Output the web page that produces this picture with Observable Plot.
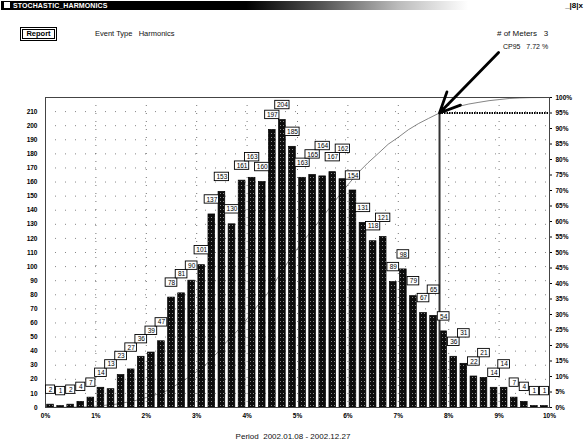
<!DOCTYPE html>
<html><head><meta charset="utf-8">
<script src="https://cdn.jsdelivr.net/npm/d3@7"></script>
<script src="https://cdn.jsdelivr.net/npm/@observablehq/plot@0.6"></script>
<style>
body{margin:0;background:#fff;font-family:"Liberation Sans",Arial,sans-serif;}
#wrap{position:relative;width:586px;height:446px;overflow:hidden;background:#fff;}
#wrap svg{position:absolute;left:0;top:0;}
.tb{position:absolute;left:1px;top:1px;width:584px;height:9px;
 background:linear-gradient(to right,#000 0%,#000 42%,#555 55%,#bbb 68%,#fff 80%,#fff 100%);}
.tb .t{position:absolute;left:12px;top:0px;color:#fff;font-size:7px;font-weight:bold;line-height:9px;letter-spacing:0.1px;}
.tb .ic{position:absolute;left:3px;top:1px;width:6px;height:6px;background:#fff;}
.tb .ctl{position:absolute;right:2px;top:0px;color:#000;font-size:8px;line-height:9px;font-weight:bold;}
.btn{position:absolute;left:20px;top:27px;width:35px;height:12px;border:1px solid #000;box-shadow:inset 0 0 0 1px #fff,inset 0 0 0 2px #000;
 font-size:7.5px;font-weight:bold;text-align:center;line-height:12px;}
.hd{position:absolute;font-size:7.5px;color:#111;white-space:pre;}
</style></head><body><div id="wrap"></div>
<script>
// ---- data ----
const binStart = [0,0.2,0.4,0.6,0.8,1,1.2,1.4,1.6,1.8,2,2.2,2.4,2.6,2.8,3,3.2,3.4,3.6,3.8,4,4.2,4.4,4.6,4.8,5,5.2,5.4,5.6,5.8,6,6.2,6.4,6.6,6.8,7,7.2,7.4,7.6,7.8,8,8.2,8.4,8.6,8.8,9,9.2,9.4,9.6,9.8];
const counts = [2,1,2,4,7,14,13,23,27,36,39,47,78,81,90,101,137,153,130,161,163,160,197,204,185,163,165,164,167,162,154,131,118,121,89,98,79,67,65,54,36,31,22,21,14,14,7,4,1,1];
const binWidth = 0.2;
const xTicks = [0,1,2,3,4,5,6,7,8,9,10];
const countTicks = [0,10,20,30,40,50,60,70,80,90,100,110,120,130,140,150,160,170,180,190,200,210];
const pctTicks = [0,5,10,15,20,25,30,35,40,45,50,55,60,65,70,75,80,85,90,95,100];
const countMax = 220;          // left axis top = 100% on right axis
const cpLevel = 95;
const cp95Text = "7.72";
const meters = 3;
const eventType = "Harmonics";
const period = "2002.01.08 - 2002.12.27";
const windowTitle = "STOCHASTIC_HARMONICS";
const arrowTail = {x: 8.99, pct: 114.5}; // annotation tail position (data units)

// ---- layout ----
const W = 586, H = 446, mL = 45, mR = 37, mT = 97, mB = 39;
const xPx = (W - mL - mR) / 10;          // px per x unit
const yPerPx = countMax / (H - mT - mB); // y units per px
const labelLift = 15;                    // px above bar top
const boxH = 8.4;                        // label box height px
const boxW = t => 6.5 + 2.6 * t.length;  // label box width px

// ---- derived ----
const bars = binStart.map((s, i) => ({s, e: s + binWidth, m: s + binWidth / 2, c: counts[i], t: String(counts[i])}));
const total = d3.sum(counts);
const pctToY = p => p * countMax / 100;
let run = 0;
const cum = [{x: 0, p: 0}].concat(bars.map(b => { run += b.c; return {x: b.e, p: run / total * 100}; }));
let cp95 = 10;
for (let i = 1; i < cum.length; i++) {
  if (cum[i].p >= cpLevel) {
    const a = cum[i-1], b = cum[i];
    cp95 = a.x + (cpLevel - a.p) / (b.p - a.p) * (b.x - a.x);
    break;
  }
}
// label placement: stack a label above its predecessor when the boxes collide
const sep = boxH * yPerPx;
const labels = [];
bars.forEach((b, i) => {
  let y = b.c + labelLift * yPerPx;
  const w = boxW(b.t);
  if (i > 0) {
    const p = labels[i - 1];
    const hOverlap = (w + p.w) / 2 - (b.m - p.m) * xPx;
    if (hOverlap > 1 && Math.abs(y - p.y) < sep) y = p.y + sep;
  }
  labels.push({m: b.m, y, w, t: b.t,
    x1: b.m - w / 2 / xPx, x2: b.m + w / 2 / xPx, y1: y - sep / 2, y2: y + sep / 2});
});

const labelMarks = labels.flatMap(l => [
  Plot.rect([l], {x1: "x1", x2: "x2", y1: "y1", y2: "y2", fill: "#fff", stroke: "#000", strokeWidth: 0.9}),
  Plot.text([l], {x: "m", y: "y", text: "t", fill: "#000", fontSize: 6.5})
]);

const wrap = document.getElementById("wrap");

const svg = Plot.plot({
  width: W, height: H,
  marginLeft: mL, marginRight: mR, marginTop: mT, marginBottom: mB,
  style: {fontFamily: "'Liberation Sans', Arial, sans-serif", fontSize: "6.5px", color: "#000", background: "transparent"},
  x: {domain: [0, 10]},
  y: {domain: [0, countMax]},
  marks: [
    Plot.gridX(xTicks.slice(1, -1), {stroke: "#555", strokeOpacity: 0.8, strokeDasharray: "1,7"}),
    Plot.gridY(countTicks.slice(1), {stroke: "#555", strokeOpacity: 0.7, strokeDasharray: "1,9"}),
    Plot.line(cum, {x: "x", y: d => pctToY(d.p), stroke: "#666", strokeWidth: 0.8}),
    Plot.rectY(bars, {x1: "s", x2: "e", y: "c", insetLeft: 1.7, insetRight: 1.7, fill: "url(#dith)", stroke: "#000", strokeWidth: 0.7}),
    Plot.ruleX([cp95], {y1: 0, y2: pctToY(cpLevel), stroke: "#333", strokeWidth: 2}),
    Plot.ruleY([pctToY(cpLevel)], {x1: cp95, x2: 10, stroke: "#000", strokeWidth: 2, strokeDasharray: "1.5,1"}),
    Plot.frame({stroke: "#444", strokeWidth: 1}),
    ...labelMarks,
    Plot.arrow([{x1: arrowTail.x, y1: pctToY(arrowTail.pct), x2: cp95, y2: pctToY(cpLevel)}],
      {x1: "x1", y1: "y1", x2: "x2", y2: "y2", stroke: "#000", strokeWidth: 2.8, headLength: 12, headAngle: 50}),
    Plot.axisX(xTicks, {tickSize: 0, tickPadding: 6, tickFormat: d => d + "%", fontWeight: "bold", fontSize: 6.5}),
    Plot.axisY(countTicks, {anchor: "left", tickSize: 0, tickPadding: 8, fontWeight: "bold", fontSize: 6.5}),
    Plot.axisY(pctTicks.map(pctToY), {anchor: "right", tickSize: 2, tickPadding: 4, tickFormat: d => Math.round(d * 100 / countMax) + "%", fontWeight: "bold", fontSize: 6.5})
  ]
});

// dithered bar pattern
const NS = "http://www.w3.org/2000/svg";
const defs = document.createElementNS(NS, "defs");
const pat = document.createElementNS(NS, "pattern");
pat.setAttribute("id", "dith"); pat.setAttribute("width", "3"); pat.setAttribute("height", "4");
pat.setAttribute("patternUnits", "userSpaceOnUse");
const pr = document.createElementNS(NS, "rect");
pr.setAttribute("width", "3"); pr.setAttribute("height", "4"); pr.setAttribute("fill", "#0d0d0d");
const pd = document.createElementNS(NS, "rect");
pd.setAttribute("x", "1"); pd.setAttribute("y", "1"); pd.setAttribute("width", "1"); pd.setAttribute("height", "1"); pd.setAttribute("fill", "#8a8a8a");
pat.append(pr, pd); defs.append(pat); svg.prepend(defs);

wrap.append(svg);

// header & caption (HTML)
const add = (cls, txt, css) => { const d = document.createElement("div"); d.className = cls; d.textContent = txt; Object.assign(d.style, css || {}); wrap.append(d); return d; };
const tb = document.createElement("div"); tb.className = "tb";
tb.innerHTML = '<div class="ic"></div><div class="t"></div><div class="ctl">_|8|x</div>';
tb.querySelector(".t").textContent = windowTitle;
wrap.append(tb);
add("btn", "Report");
add("hd", "Event Type   " + eventType, {left: "95px", top: "29px"});
add("hd", "# of Meters   " + meters, {left: "497px", top: "29px", fontSize: "8px"});
add("hd", "CP95   " + cp95Text + " %", {left: "503px", top: "43px", fontSize: "7px"});
add("hd", "Period  " + period, {left: "0px", width: "586px", textAlign: "center", top: "432px", fontSize: "8px"});
</script></body></html>
